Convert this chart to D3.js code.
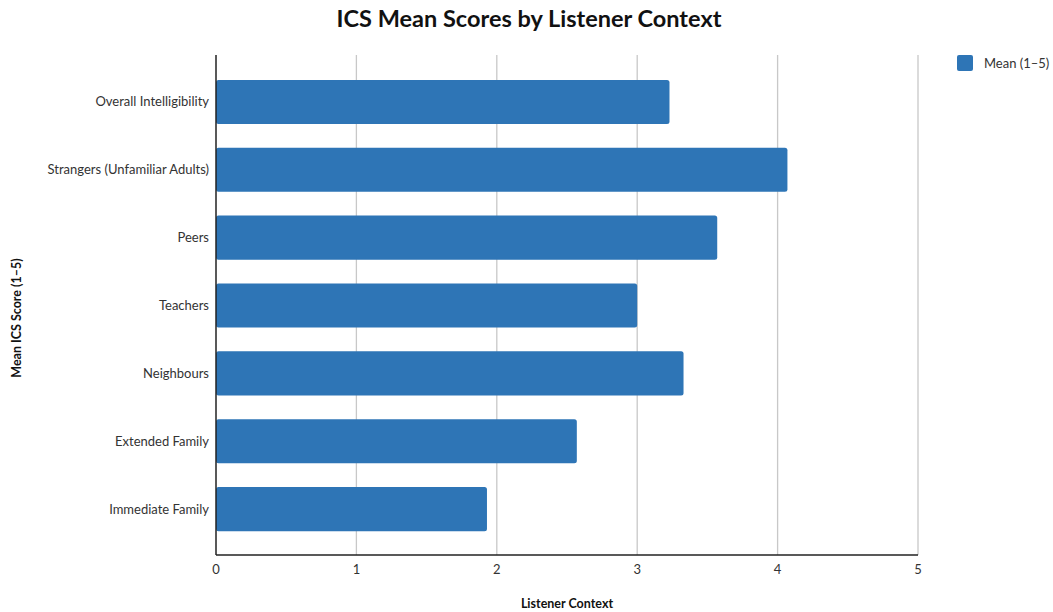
<!DOCTYPE html>
<html><head><meta charset="utf-8">
<script src="https://cdn.jsdelivr.net/npm/d3@7"></script>
<style>body{margin:0;background:#fff;}svg{display:block;font-family:Lato,"Open Sans",sans-serif;}</style>
</head><body>
<svg id="c" width="1053" height="612"></svg>
<script>
const categories = ["Overall Intelligibility","Strangers (Unfamiliar Adults)","Peers","Teachers","Neighbours","Extended Family","Immediate Family"];
const meanValues = [3.23, 4.07, 3.57, 3.00, 3.33, 2.57, 1.93];
const xTicks = [0,1,2,3,4,5];
const seriesName = "Mean (1–5)";

(function(){
const svg = d3.select("#c");
const pL = 216, pR = 918, pT = 55, pB = 555;
const x = d3.scaleLinear().domain([0,5]).range([pL,pR]);
const y = d3.scaleBand().domain(categories).range([68,543]).paddingInner(0.35).paddingOuter(0.175);
const color = "#2E75B6";

svg.append("g").selectAll("line").data(xTicks.filter(d=>d>0)).join("line")
  .attr("x1",d=>x(d)).attr("x2",d=>x(d)).attr("y1",pT).attr("y2",pB)
  .attr("stroke","#c8c8c8").attr("stroke-width",1.3);

svg.append("g").selectAll("rect").data(categories).join("rect")
  .attr("x",x(0)).attr("y",d=>y(d)).attr("width",(d,i)=>x(meanValues[i])-x(0))
  .attr("height",y.bandwidth()).attr("rx",2.5).attr("fill",color);

svg.append("line").attr("x1",pL).attr("x2",pL).attr("y1",pT).attr("y2",pB).attr("stroke","#222").attr("stroke-width",1.5);
svg.append("line").attr("x1",pL).attr("x2",pR).attr("y1",pB).attr("y2",pB).attr("stroke","#222").attr("stroke-width",1.5);

svg.append("g").selectAll("text").data(xTicks).join("text")
  .attr("x",d=>x(d)).attr("y",574).attr("text-anchor","middle")
  .attr("font-size",13).attr("fill","#333").text(d=>d);

svg.append("g").selectAll("text").data(categories).join("text")
  .attr("x",209).attr("y",d=>y(d)+y.bandwidth()/2).attr("dy","0.35em")
  .attr("text-anchor","end").attr("font-size",13).attr("fill","#333").text(d=>d);

svg.append("text").attr("x",529).attr("y",27).attr("text-anchor","middle")
  .attr("font-size",23.5).attr("font-weight","bold").attr("fill","#111").text("ICS Mean Scores by Listener Context");
svg.append("text").attr("x",567).attr("y",608).attr("text-anchor","middle")
  .attr("font-size",12.5).attr("font-weight","bold").attr("fill","#111").text("Listener Context");
svg.append("text").attr("transform","translate(21,318) rotate(-90)").attr("text-anchor","middle")
  .attr("font-size",12.5).attr("font-weight","bold").attr("fill","#111").text("Mean ICS Score (1–5)");

svg.append("rect").attr("x",957).attr("y",55).attr("width",16).attr("height",16).attr("rx",2).attr("fill",color);
svg.append("text").attr("x",984).attr("y",63).attr("dy","0.35em").attr("font-size",13).attr("fill","#333").text(seriesName);
})();
</script>
</body></html>
